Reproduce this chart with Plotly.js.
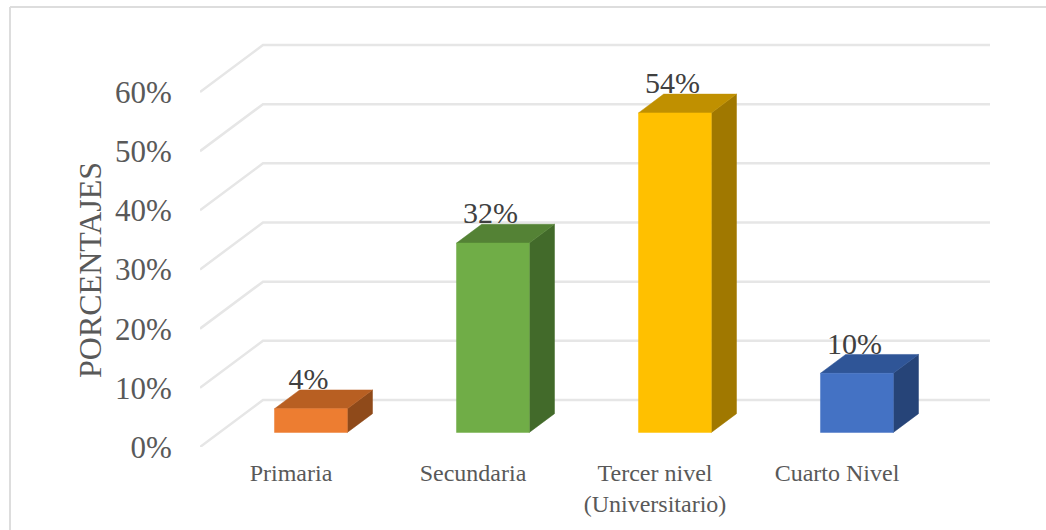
<!DOCTYPE html>
<html>
<head>
<meta charset="utf-8">
<script src="https://cdn.plot.ly/plotly-3.0.1.min.js"></script>
<style>html,body{margin:0;padding:0;background:#fff}#chart{width:1046px;height:530px}</style>
</head>
<body>
<div id="chart"></div>
<script>
const categories = ["Primaria", "Secundaria", "Tercer nivel<br>(Universitario)", "Cuarto Nivel"];
const values = [4, 32, 54, 10];
const valueLabels = ["4%", "32%", "54%", "10%"];
const yTicks = [0, 10, 20, 30, 40, 50, 60];
const yTitle = "PORCENTAJES";
const frontColors = ["#ED7D31", "#70AD47", "#FFC000", "#4472C4"];
const topColors = ["#B85F22", "#548235", "#C09000", "#2F5597"];
const sideColors = ["#8F4A1A", "#426A2A", "#A07800", "#264478"];

const xPos = categories.map((_, i) => i);
// plot area geometry (pixels)
const W = 1046, H = 530, mL = 200, mR = 56, mB = 83, pxPerCat = 182, pxPerPct = 5.917;
const plotW = W - mL - mR, plotH = H - mB;
const paperX = p => (p - mL) / plotW;
const paperY = p => (plotH - p) / plotH;
// oblique projection of the depth axis, in axis units
const depthX = 63 / pxPerCat, depthY = 47 / pxPerPct;
const halfBar = 0.2, barNear = 0.31, barFar = 0.71;
const px = (x, d) => x + d * depthX;
const py = (y, d) => y + d * depthY;

function poly(xs, ys, color) {
  return {type: "scatter", mode: "lines", x: [...xs, xs[0]], y: [...ys, ys[0]], fill: "toself",
    fillcolor: color, line: {color: color, width: 0.5}, hoverinfo: "skip", showlegend: false};
}
const traces = [];
yTicks.forEach(t => traces.push({type: "scatter", mode: "lines",
  x: [-0.5, px(-0.5, 1), px(3.5, 1)], y: [t, py(t, 1), py(t, 1)],
  line: {color: "#E6E6E6", width: 2.5}, hoverinfo: "skip", showlegend: false}));
values.forEach((v, i) => {
  const l = xPos[i] - halfBar + 0.002, r = xPos[i] + halfBar + 0.002;
  const xn = a => px(a, barNear), xf = a => px(a, barFar), y0n = py(0, barNear), y0f = py(0, barFar), yn = py(v, barNear), yf = py(v, barFar);
  traces.push(poly([xn(r), xf(r), xf(r), xn(r)], [y0n, y0f, yf, yn], sideColors[i]));
  traces.push(poly([xn(l), xn(r), xf(r), xf(l)], [yn, yn, yf, yf], topColors[i]));
  traces.push(poly([xn(l), xn(r), xn(r), xn(l)], [y0n, y0n, yn, yn], frontColors[i]));
});
traces.push({type: "scatter", mode: "text", x: xPos.map(x => px(x, barNear) - 0.011), y: values.map(v => py(v, barNear) + 4.6),
  text: valueLabels, textposition: "middle center", textfont: {family: "Liberation Serif", size: 30, color: "#404040"},
  hoverinfo: "skip", showlegend: false});

const layout = {
  width: W, height: H, autosize: false, paper_bgcolor: "#fff", plot_bgcolor: "rgba(0,0,0,0)", showlegend: false,
  margin: {l: mL, r: mR, t: 0, b: mB, pad: 0},
  font: {family: "Liberation Serif", color: "#595959"},
  xaxis: {range: [-0.5, -0.5 + plotW / pxPerCat], tickmode: "array", tickvals: xPos, ticktext: categories, showgrid: false, zeroline: false, showline: false,
    ticks: "outside", ticklen: 4, tickcolor: "rgba(0,0,0,0)", tickfont: {size: 24, color: "#595959", family: "Liberation Serif"}, tickangle: 0},
  yaxis: {range: [0, plotH / pxPerPct], tickmode: "array", tickvals: yTicks, ticktext: yTicks.map(t => t + "%"), showgrid: false, zeroline: false, showline: false,
    ticks: "outside", ticklen: 21, tickcolor: "rgba(0,0,0,0)", tickfont: {size: 31, color: "#595959", family: "Liberation Serif"}},
  annotations: [{text: yTitle, textangle: -90, xref: "paper", yref: "paper", x: paperX(90), y: paperY(270), xanchor: "center", yanchor: "middle", showarrow: false,
    font: {size: 32, color: "#595959", family: "Liberation Serif"}}],
  shapes: [
    {type: "line", xref: "paper", yref: "paper", x0: paperX(10), x1: paperX(10), y0: paperY(7), y1: paperY(H), line: {color: "#DDDDDD", width: 2}},
    {type: "line", xref: "paper", yref: "paper", x0: paperX(10), x1: paperX(W), y0: paperY(7), y1: paperY(7), line: {color: "#DDDDDD", width: 2}}
  ]
};
Plotly.newPlot("chart", traces, layout, {displayModeBar: false, staticPlot: true});
</script>
</body>
</html>
